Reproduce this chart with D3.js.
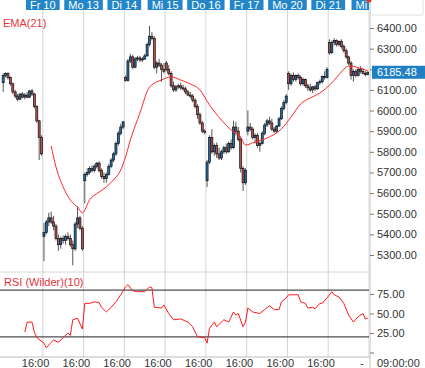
<!DOCTYPE html>
<html>
<head>
<meta charset="utf-8">
<script src="https://cdn.jsdelivr.net/npm/d3@7"></script>
<style>
  body { margin: 0; background: #fff; }
  text { font-family: Arial, "Liberation Sans", sans-serif; font-size: 11px; }
</style>
</head>
<body>
<svg id="chart" width="425" height="368"></svg>
<script>
// 30-minute bars, 17 per session (09:00 .. 17:00), 9 sessions
const barsPerDay = 17;
const dayLabels = ["Fr 10", "Mo 13", "Di 14", "Mi 15", "Do 16", "Fr 17", "Mo 20", "Di 21", "Mi 22"];
const timeLabels = ["16:00", "16:00", "16:00", "16:00", "16:00", "16:00", "16:00", "16:00", "-"];

const opens = [
  6135,6170,6180,6160,6130,6090,6070,6055,6080,6065,6075,6065,6095,6080,6020,5950,5870,
  5390,5410,5460,5480,5460,5440,5380,5350,5380,5370,5390,5380,5350,5330,5450,5480,5430,
  5660,5690,5700,5720,5710,5730,5745,5710,5680,5670,5690,5730,5760,5790,5840,5890,5920,
  6160,6145,6240,6260,6210,6250,6255,6245,6250,6265,6320,6360,6350,6210,6230,6220,6200,
  6230,6200,6180,6120,6100,6115,6120,6110,6105,6090,6075,6070,6050,6020,5980,5940,5900,
  5660,5750,5870,5800,5830,5790,5770,5800,5820,5800,5840,5820,5920,5900,5860,5720,5650,
  5900,5920,5910,5870,5880,5830,5840,5890,5930,5950,5940,5910,5900,5925,5960,6010,6040,
  6180,6130,6170,6150,6170,6160,6130,6150,6120,6110,6100,6115,6105,6135,6140,6165,6160,
  6330,6280,6330,6340,6320,6335,6310,6290,6260,6230,6170,6190,6170,6200,6190,6180,6175
];
const highs = [
  6180,6185,6185,6165,6135,6100,6080,6085,6090,6085,6090,6100,6105,6085,6025,5955,5880,
  5455,5470,5505,5510,5490,5450,5400,5390,5395,5400,5410,5400,5370,5460,5535,5490,5440,
  5700,5720,5730,5735,5740,5750,5755,5720,5700,5700,5740,5770,5800,5850,5900,5935,5950,
  6170,6250,6275,6270,6260,6265,6265,6260,6275,6330,6410,6380,6360,6240,6250,6230,6230,
  6240,6220,6190,6140,6125,6130,6135,6125,6115,6100,6090,6080,6060,6030,5990,5950,5910,
  5760,5880,5910,5840,5845,5820,5810,5830,5840,5850,5860,5950,5945,5920,5870,5730,5720,
  6000,5940,5920,5890,5890,5850,5900,5940,5960,5970,5960,5920,5930,5970,6020,6050,6080,
  6190,6180,6185,6175,6180,6170,6160,6155,6130,6130,6120,6125,6140,6150,6170,6190,6210,
  6345,6340,6350,6345,6340,6345,6320,6300,6265,6240,6200,6200,6210,6215,6205,6190,6190
];
const lows = [
  6090,6160,6150,6120,6080,6060,6045,6050,6060,6055,6060,6060,6070,6010,5940,5760,5780,
  5270,5400,5440,5450,5420,5370,5320,5330,5355,5350,5370,5340,5250,5320,5430,5420,5320,
  5550,5680,5690,5700,5700,5720,5700,5670,5650,5650,5685,5720,5750,5780,5830,5880,5910,
  6140,6140,6230,6200,6205,6240,6235,6235,6245,6260,6310,6340,6200,6180,6210,6140,6180,
  6190,6170,6110,6090,6090,6105,6100,6095,6080,6070,6060,6040,6010,5960,5930,5890,5885,
  5630,5740,5790,5780,5770,5760,5760,5790,5790,5795,5810,5815,5880,5850,5700,5610,5640,
  5880,5900,5860,5840,5820,5800,5835,5880,5920,5930,5900,5890,5890,5920,5955,6000,6030,
  6100,6120,6140,6140,6150,6120,6120,6110,6095,6090,6085,6095,6100,6125,6130,6150,6155,
  6270,6275,6315,6310,6310,6300,6280,6250,6220,6150,6140,6160,6165,6180,6175,6165,6170
];
const closes = [
  6170,6180,6160,6130,6090,6070,6055,6080,6065,6075,6065,6095,6080,6020,5950,5870,5790,
  5410,5460,5480,5460,5440,5380,5350,5380,5370,5390,5380,5350,5330,5450,5480,5430,5330,
  5690,5700,5720,5710,5730,5745,5710,5680,5670,5690,5730,5760,5790,5840,5890,5920,5945,
  6145,6240,6260,6210,6250,6255,6245,6250,6265,6320,6360,6350,6210,6230,6220,6200,6190,
  6200,6180,6120,6100,6115,6120,6110,6105,6090,6075,6070,6050,6020,5980,5940,5900,5895,
  5750,5870,5800,5830,5790,5770,5800,5820,5800,5840,5820,5920,5900,5860,5720,5650,5710,
  5920,5910,5870,5880,5830,5840,5890,5930,5950,5940,5910,5900,5925,5960,6010,6040,6070,
  6130,6170,6150,6170,6160,6130,6150,6120,6110,6100,6115,6105,6135,6140,6165,6160,6200,
  6280,6330,6340,6320,6335,6310,6290,6260,6230,6170,6190,6170,6200,6190,6180,6175,6185.48
];

// EMA(21) at these bar indices
const emaBars = [20,22,25,29,31,33,36,40,43,46,49,51,53,57,61,66,70,74,78,82,86,91,95,99,101,105,110,116,120,124,128,132,137,141,144,147,150,152];
const emaValues = [5828,5727,5630,5552,5533,5504,5567,5605,5630,5664,5712,5775,5857,5988,6114,6148,6163,6148,6129,6100,6027,5954,5906,5872,5833,5848,5867,5911,5969,6032,6061,6085,6134,6187,6216,6211,6201,6192];

// RSI (Wilder)(10)
const rsiBars = [9,10,12,13,14,17,18,20,21,23,25,27,28,29,31,33,34,36,38,40,41,43,45,47,49,51,52,54,56,59,61,62,63,66,67,69,71,74,77,79,81,84,85,86,88,89,92,94,96,97,98,100,101,102,104,107,109,111,113,115,116,118,119,121,123,124,126,127,129,130,132,133,135,137,138,140,142,144,146,148,150,151,152];
const rsiValues = [26,39,39,26,19,12,6,13,16,13,19,25,22,42,44,30,63,63,65,64,58,52,58,65,74,84,87,79,78,78,84,83,58,57,61,50,42,43,39,33,20,19,12,31,39,33,42,39,52,48,50,33,39,57,52,50,55,60,55,55,65,70,74,74,74,65,63,57,58,56,63,63,70,78,74,71,63,48,39,46,50,43,44];

const priceTicks = d3.range(5300, 6401, 100);
const rsiTicks = [0, 25, 50, 75];
const rsiLevels = [80, 20];
const lastPrice = 6185.48;

const W = 425, H = 368;
const plotRight = 369, axisX = 370;
const mainBottom = 272, rsiBottom = 357;

const svg = d3.select("#chart");

const nBars = closes.length;
const x = d3.scaleLinear().domain([0, nBars]).range([2, plotRight]);
const y = d3.scaleLinear().domain([5300, 6400]).range([255, 28]);
const yr = d3.scaleLinear().domain([0, 100]).range([352.5, 274.5]);

svg.append("defs").append("clipPath").attr("id", "plotClip")
  .append("rect").attr("x", 0).attr("y", 0).attr("width", plotRight).attr("height", rsiBottom);

const plot = svg.append("g").attr("clip-path", "url(#plotClip)");

// day gridlines
const dayStarts = dayLabels.map((d, k) => (k + 1) * barsPerDay);
plot.selectAll("line.grid").data(dayStarts).enter().append("line")
  .attr("class", "grid")
  .attr("x1", d => x(d)).attr("x2", d => x(d))
  .attr("y1", 0).attr("y2", rsiBottom)
  .attr("stroke", "#d4d4d4").attr("stroke-width", 1);

// panel separators
svg.append("line").attr("x1", 0).attr("x2", axisX).attr("y1", mainBottom).attr("y2", mainBottom)
  .attr("stroke", "#d4d4d4");
svg.append("line").attr("x1", 0).attr("x2", axisX).attr("y1", rsiBottom).attr("y2", rsiBottom)
  .attr("stroke", "#bdbdbd");
svg.append("line").attr("x1", axisX).attr("x2", axisX).attr("y1", 0).attr("y2", H)
  .attr("stroke", "#bdbdbd");
svg.append("path").attr("d", "M" + (axisX + 2) + ",15H423V0")
  .attr("fill", "none").attr("stroke", "#e0e0e0");

// candles
const bars = d3.range(nBars).map(i => ({ i: i, o: opens[i], h: highs[i], l: lows[i], c: closes[i] }));
const candle = plot.selectAll("g.candle").data(bars).enter().append("g").attr("class", "candle");
candle.append("line")
  .attr("x1", d => x(d.i + 0.5)).attr("x2", d => x(d.i + 0.5))
  .attr("y1", d => y(d.h)).attr("y2", d => y(d.l))
  .attr("stroke", "#555").attr("stroke-width", 1);
candle.append("rect")
  .attr("x", d => x(d.i + 0.5) - 1)
  .attr("y", d => y(Math.max(d.o, d.c)))
  .attr("width", 2)
  .attr("height", d => Math.max(1, Math.abs(y(d.o) - y(d.c))))
  .attr("fill", d => d.c >= d.o ? "#1f6fae" : "#c0504d")
  .attr("stroke", "#111").attr("stroke-width", 0.7);

// EMA
const emaData = emaBars.map((b, k) => ({ i: b, v: emaValues[k] }));
plot.append("path").datum(emaData)
  .attr("fill", "none").attr("stroke", "#ff2a2a").attr("stroke-width", 1)
  .attr("d", d3.line().x(d => x(d.i + 0.5)).y(d => y(d.v)).curve(d3.curveMonotoneX));

// RSI levels + line
plot.selectAll("line.level").data(rsiLevels).enter().append("line")
  .attr("class", "level")
  .attr("x1", 0).attr("x2", plotRight)
  .attr("y1", d => yr(d)).attr("y2", d => yr(d))
  .attr("stroke", "#222").attr("stroke-width", 1);
const rsiData = rsiBars.map((b, k) => ({ i: b, v: rsiValues[k] }));
plot.append("path").datum(rsiData)
  .attr("fill", "none").attr("stroke", "#ff1a1a").attr("stroke-width", 1)
  .attr("d", d3.line().x(d => x(d.i + 0.5)).y(d => yr(d.v)));

// panel titles
svg.append("text").attr("x", 3).attr("y", 27).attr("fill", "#e8333a").text("EMA(21)");
svg.append("text").attr("x", 4).attr("y", 286).attr("fill", "#e8333a").text("RSI (Wilder)(10)");

// right axes
const styleAxis = g => {
  g.select(".domain").remove();
  g.selectAll(".tick line").attr("stroke", "#777");
  g.selectAll(".tick text").attr("fill", "#333").style("font-size", "11px")
    .style("font-family", "Arial, 'Liberation Sans', sans-serif");
};
// the 6200 label sits under the last-price tag, so it is left blank
svg.append("g").attr("transform", `translate(${axisX},0)`)
  .call(d3.axisRight(y).tickValues(priceTicks).tickSize(4).tickPadding(3)
    .tickFormat(d => Math.abs(y(d) - y(lastPrice)) < 10 ? "" : d3.format(".2f")(d)))
  .call(styleAxis);
svg.append("g").attr("transform", `translate(${axisX},0)`)
  .call(d3.axisRight(yr).tickValues(rsiTicks).tickSize(4).tickPadding(3)
    .tickFormat(d => d ? d3.format(".2f")(d) : ""))
  .call(styleAxis);

// last price tag
svg.append("rect").attr("x", axisX + 2).attr("y", y(lastPrice) - 6.5).attr("width", 53).attr("height", 13)
  .attr("fill", "#1f7fc4");
svg.append("text").attr("x", axisX + 7).attr("y", y(lastPrice) + 4).attr("fill", "#fff").text(d3.format(".2f")(lastPrice));

// top day labels
const dayBand = svg.append("g").attr("clip-path", "url(#plotClip)");
dayLabels.forEach((lab, k) => {
  const cx = x(dayStarts[k]);
  const t = dayBand.append("text").attr("x", cx).attr("y", 8.5).attr("text-anchor", "middle")
    .attr("fill", "#fff").text(lab);
  const w = t.node().getComputedTextLength() + 8;
  dayBand.insert("rect", "text").attr("x", cx - w / 2).attr("y", -1).attr("width", w).attr("height", 11)
    .attr("fill", "#2386c8");
});
svg.append("circle").attr("cx", plotRight).attr("cy", 0).attr("r", 2.5).attr("fill", "#e83030");

// bottom time labels
svg.selectAll("text.time").data(timeLabels).enter().append("text")
  .attr("class", "time")
  .attr("x", (d, k) => x(k * barsPerDay + 14))
  .attr("y", 366.5).attr("text-anchor", "middle").attr("fill", "#333")
  .text(d => d);
svg.append("text").attr("x", 377).attr("y", 366.5).attr("fill", "#333").text("09:00:00");
</script>
</body>
</html>
